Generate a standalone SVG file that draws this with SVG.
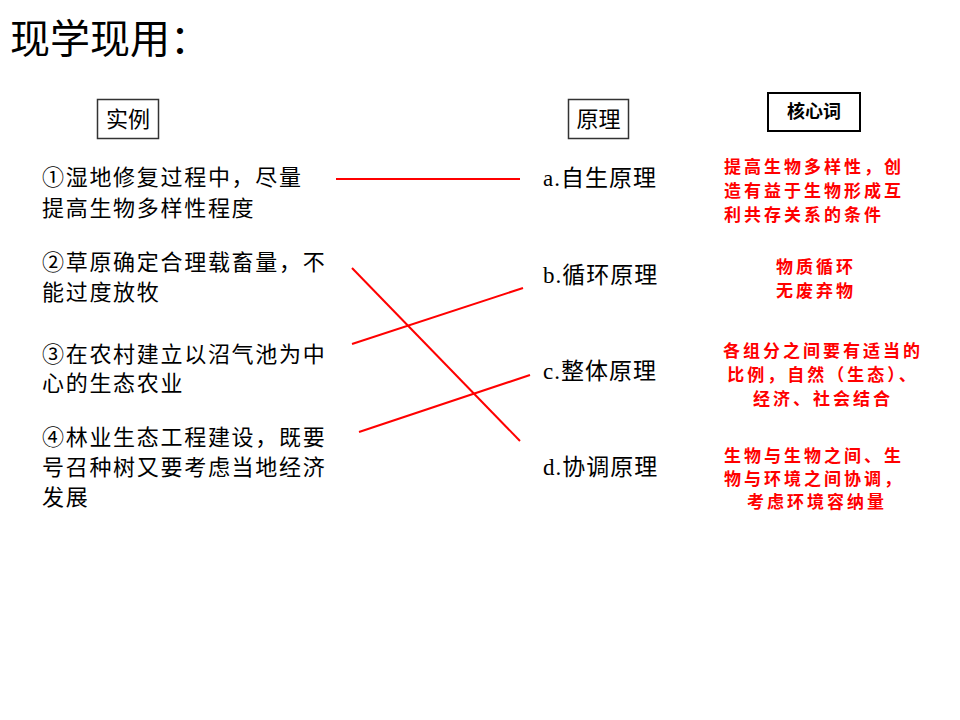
<svg xmlns="http://www.w3.org/2000/svg" width="960" height="720" viewBox="0 0 960 720">
<style>
.t{font-family:"Noto Sans CJK SC","Noto Sans",sans-serif;fill:#000}
.ex{font-size:22px;letter-spacing:1.7px}
.pr{font-family:"Liberation Serif","Noto Sans CJK SC",serif;font-size:23px;letter-spacing:1px;fill:#000}
.red{font-family:"Noto Sans CJK SC",sans-serif;font-size:17px;font-weight:bold;fill:#ff0000;letter-spacing:3px}
.box{fill:#fff;stroke:#333;stroke-width:1.5}
.conn line{stroke:#ff0000;stroke-width:2}
</style>
<rect width="960" height="720" fill="#fff"/>
<text class="t" x="10" y="53" font-size="40">现学现用：</text>

<g id="hdr-example">
<rect class="box" x="97.5" y="99.5" width="61" height="39"/>
<text class="t" x="128" y="127" font-size="22" text-anchor="middle">实例</text>
</g>
<g id="hdr-principle">
<rect class="box" x="568.5" y="99.5" width="60" height="39"/>
<text class="t" x="598.5" y="127" font-size="22" text-anchor="middle">原理</text>
</g>
<g id="hdr-keyword">
<rect x="768" y="93" width="92" height="38" fill="#fff" stroke="#000" stroke-width="2"/>
<text class="t" x="814" y="118" font-size="18" font-weight="bold" text-anchor="middle">核心词</text>
</g>

<g id="ex1"><text class="t ex"><tspan x="42" y="185">①湿地修复过程中，尽量</tspan><tspan x="42" y="216">提高生物多样性程度</tspan></text></g>
<g id="ex2"><text class="t ex"><tspan x="42" y="270">②草原确定合理载畜量，不</tspan><tspan x="42" y="300">能过度放牧</tspan></text></g>
<g id="ex3"><text class="t ex"><tspan x="42" y="362">③在农村建立以沼气池为中</tspan><tspan x="42" y="391">心的生态农业</tspan></text></g>
<g id="ex4"><text class="t ex"><tspan x="42" y="445">④林业生态工程建设，既要</tspan><tspan x="42" y="475">号召种树又要考虑当地经济</tspan><tspan x="42" y="505">发展</tspan></text></g>

<g id="pa"><text class="pr" x="543" y="186">a.自生原理</text></g>
<g id="pb"><text class="pr" x="543" y="283">b.循环原理</text></g>
<g id="pc"><text class="pr" x="543" y="379">c.整体原理</text></g>
<g id="pd"><text class="pr" x="543" y="475">d.协调原理</text></g>

<g id="ka"><text class="red"><tspan x="724" y="173">提高生物多样性，创</tspan><tspan x="724" y="197">造有益于生物形成互</tspan><tspan x="724" y="221">利共存关系的条件</tspan></text></g>
<g id="kb"><text class="red" text-anchor="middle"><tspan x="816" y="273">物质循环</tspan><tspan x="816" y="297">无废弃物</tspan></text></g>
<g id="kc"><text class="red" text-anchor="middle"><tspan x="823" y="357">各组分之间要有适当的</tspan><tspan x="823" y="381">比例，自然（生态）、</tspan><tspan x="823" y="405">经济、社会结合</tspan></text></g>
<g id="kd"><text class="red"><tspan x="724" y="462">生物与生物之间、生</tspan><tspan x="724" y="485">物与环境之间协调，</tspan><tspan x="817" y="508" text-anchor="middle">考虑环境容纳量</tspan></text></g>

<g id="connectors" class="conn">
<line x1="336" y1="179" x2="520" y2="179"/>
<line x1="352" y1="268" x2="520" y2="441"/>
<line x1="352" y1="344" x2="523" y2="288"/>
<line x1="359" y1="432" x2="530" y2="375"/>
</g>
</svg>
